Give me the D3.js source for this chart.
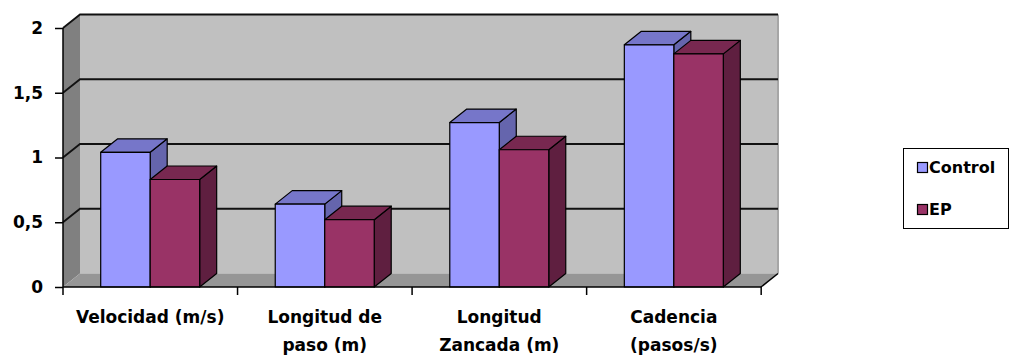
<!DOCTYPE html>
<html>
<head>
<meta charset="utf-8">
<script src="https://cdn.jsdelivr.net/npm/d3@7"></script>
<style>
  html, body { margin: 0; padding: 0; background: #fff; }
  svg text { font-family: "DejaVu Sans", sans-serif; font-weight: bold; fill: #000; }
</style>
</head>
<body>
<svg id="chart" width="1011" height="356"></svg>
<script>
// Gait parameters, Control vs EP
const categories = [
  ["Velocidad (m/s)"],
  ["Longitud de", "paso (m)"],
  ["Longitud", "Zancada (m)"],
  ["Cadencia", "(pasos/s)"]
];
const seriesNames = ["Control", "EP"];
const controlValues = [1.04, 0.64, 1.27, 1.87];
const epValues = [0.83, 0.52, 1.06, 1.80];
const yTicks = [0, 0.5, 1, 1.5, 2];

// Face colours for each series: front, top, side
const palette = {
  Control: { front: "#9999ff", top: "#7676c9", side: "#6565ad" },
  EP:      { front: "#993366", top: "#782850", side: "#5f1f40" }
};

const svg = d3.select("#chart");

// Front plane of the 3D box and its depth offset
const plotLeft = 63, plotRight = 761, plotBottom = 287, plotTop = 28;
const dx = 17, dy = -13.5;

const y = d3.scaleLinear().domain([0, 2]).range([plotBottom, plotTop]);
const x = d3.scaleBand().domain(d3.range(categories.length)).range([plotLeft, plotRight])
  .paddingInner(0.433).paddingOuter(0.216);
const xs = d3.scaleBand().domain(seriesNames).range([0, x.bandwidth()]);

const es = d3.formatLocale({ decimal: ",", thousands: ".", grouping: [3], currency: ["", "€"] });
const fmt = es.format(".1~f");

const poly = pts => pts.map(p => p.join(",")).join(" ");

// Walls and floor
svg.append("polygon")
  .attr("points", poly([[plotLeft + dx, y(2) + dy], [plotRight + dx, y(2) + dy], [plotRight + dx, plotBottom + dy], [plotLeft + dx, plotBottom + dy]]))
  .attr("fill", "#c0c0c0");
svg.append("polygon")
  .attr("points", poly([[plotLeft, y(2)], [plotLeft + dx, y(2) + dy], [plotLeft + dx, plotBottom + dy], [plotLeft, plotBottom]]))
  .attr("fill", "#808080");
svg.append("polygon")
  .attr("points", poly([[plotLeft, plotBottom], [plotLeft + dx, plotBottom + dy], [plotRight + dx, plotBottom + dy], [plotRight, plotBottom]]))
  .attr("fill", "#969696");
svg.append("line")
  .attr("x1", plotRight + dx).attr("x2", plotRight + dx)
  .attr("y1", y(2) + dy).attr("y2", plotBottom + dy)
  .attr("stroke", "#a6a6a6").attr("stroke-width", 2);
svg.append("line")
  .attr("x1", plotRight).attr("y1", plotBottom).attr("x2", plotRight + dx).attr("y2", plotBottom + dy)
  .attr("stroke", "#000").attr("stroke-width", 1.5);

// Gridlines across the side wall and back wall
const grid = svg.append("g").attr("fill", "none").attr("stroke", "#111").attr("stroke-width", 1.8);
yTicks.filter(t => t > 0).forEach(t => {
  grid.append("polyline")
    .attr("points", poly([[plotLeft, y(t)], [plotLeft + dx, y(t) + dy], [plotRight + dx, y(t) + dy]]));
});

// Bars drawn as boxes: front, top and right side
const data = [];
categories.forEach((c, i) => {
  data.push({ i, s: "Control", v: controlValues[i] });
  data.push({ i, s: "EP", v: epValues[i] });
});
const bars = svg.append("g").attr("stroke", "#000").attr("stroke-width", 1.2).attr("stroke-linejoin", "round");
data.forEach(d => {
  const x0 = x(d.i) + xs(d.s), x1 = x0 + xs.bandwidth();
  const yv = y(d.v), yb = y(0);
  const col = palette[d.s];
  const g = bars.append("g");
  g.append("polygon").attr("fill", col.side)
    .attr("points", poly([[x1, yv], [x1 + dx, yv + dy], [x1 + dx, yb + dy], [x1, yb]]));
  g.append("polygon").attr("fill", col.top)
    .attr("points", poly([[x0, yv], [x0 + dx, yv + dy], [x1 + dx, yv + dy], [x1, yv]]));
  g.append("rect").attr("fill", col.front)
    .attr("x", x0).attr("y", yv).attr("width", x1 - x0).attr("height", yb - yv);
});

// Value axis
const yAxis = svg.append("g").attr("transform", `translate(${plotLeft},0)`)
  .call(d3.axisLeft(y).tickValues(yTicks).tickFormat(fmt).tickSize(8).tickPadding(12));
yAxis.select(".domain").attr("stroke", "#000").attr("stroke-width", 1.5)
  .attr("d", `M0,${y(2)}V${plotBottom}`);
yAxis.selectAll(".tick line").attr("stroke", "#000").attr("stroke-width", 1.5);
yAxis.selectAll(".tick text").style("font-size", "17px").style("font-family", "DejaVu Sans").style("font-weight", "bold");

// Category axis
const xAxis = svg.append("g");
xAxis.append("line").attr("x1", plotLeft).attr("x2", plotRight).attr("y1", plotBottom).attr("y2", plotBottom)
  .attr("stroke", "#000").attr("stroke-width", 1.5);
const step = x.step();
d3.range(categories.length + 1).forEach(k => {
  const tx = plotLeft + k * step;
  xAxis.append("line").attr("x1", tx).attr("x2", tx).attr("y1", plotBottom).attr("y2", plotBottom + 8)
    .attr("stroke", "#000").attr("stroke-width", 1.5);
});
categories.forEach((lines, i) => {
  const cx = x(i) + x.bandwidth() / 2;
  const t = xAxis.append("text").attr("text-anchor", "middle").style("font-size", "17px")
    .attr("x", cx).attr("y", 323);
  lines.forEach((ln, j) => {
    t.append("tspan").attr("x", cx).attr("dy", j === 0 ? 0 : 28).text(ln);
  });
});

// Legend
const legend = svg.append("g");
legend.append("rect").attr("x", 903.5).attr("y", 148.5).attr("width", 105).attr("height", 80)
  .attr("fill", "#fff").attr("stroke", "#000").attr("stroke-width", 1);
seriesNames.forEach((s, k) => {
  const ly = 162 + k * 42;
  legend.append("rect").attr("x", 917.5).attr("y", ly + 0.5).attr("width", 10).attr("height", 10)
    .attr("fill", palette[s].front).attr("stroke", "#000").attr("stroke-width", 1.2);
  legend.append("text").attr("x", 929).attr("y", ly + 11).style("font-size", "16px").text(s);
});
</script>
</body>
</html>
